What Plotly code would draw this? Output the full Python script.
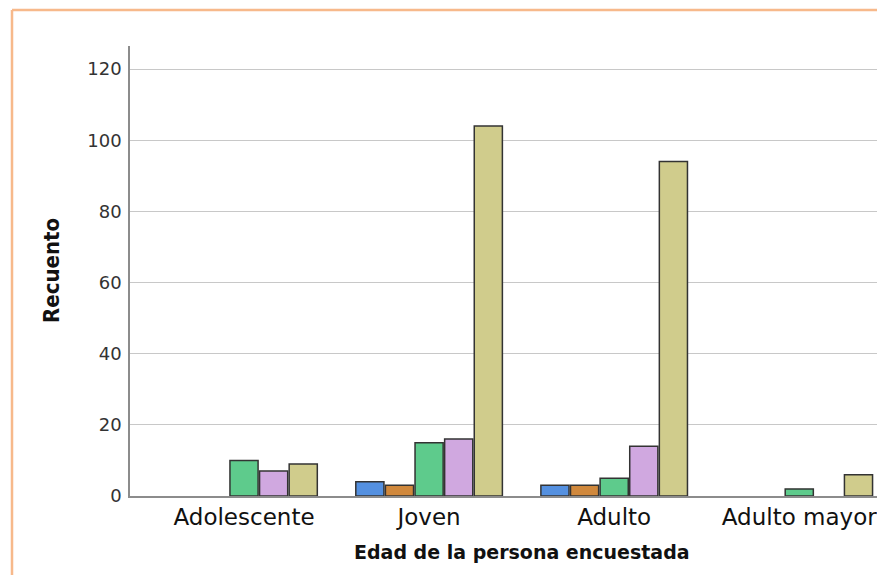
import plotly.graph_objects as go

categories = ["Adolescente", "Joven", "Adulto", "Adulto mayor"]
series_names = ["Serie 1", "Serie 2", "Serie 3", "Serie 4", "Serie 5"]
serie_1 = [0, 4, 3, 0]
serie_2 = [0, 3, 3, 0]
serie_3 = [10, 15, 5, 2]
serie_4 = [7, 16, 14, 0]
serie_5 = [9, 104, 94, 6]
y_ticks = [0, 20, 40, 60, 80, 100, 120]

series_values = [serie_1, serie_2, serie_3, serie_4, serie_5]
colors = ["#5490e0", "#d0883c", "#5ecb8c", "#d0a8e0", "#d0cc8c"]

W, H = 877, 575
L, R, T, B = 130, 0, 46, 79
pw, ph = W - L - R, H - T - B

def px_x(x):
    return (x - L) / pw

def px_y(y):
    return (H - B - y) / ph

fig = go.Figure()
for name, vals, col in zip(series_names, series_values, colors):
    fig.add_trace(go.Bar(
        x=categories, y=vals, name=name,
        marker=dict(color=col,
                    line=dict(color="#333333",
                              width=[1.5 if v else 0 for v in vals])),
    ))

fig.update_layout(
    width=W, height=H,
    margin=dict(l=L, r=R, t=T, b=B),
    paper_bgcolor="white", plot_bgcolor="white",
    barmode="group", bargap=0.2, bargroupgap=0.05,
    showlegend=False,
    font=dict(family="DejaVu Sans, sans-serif", color="#222222"),
    xaxis=dict(
        type="category", range=[-0.616, 3.42],
        showline=True, linecolor="#8c8c8c", linewidth=1.5,
        showgrid=False, ticks="",
        tickfont=dict(family="DejaVu Sans, sans-serif", size=23, color="#111111"),
    ),
    yaxis=dict(
        range=[0, 126.5], tickvals=y_ticks,
        showline=True, linecolor="#8c8c8c", linewidth=1.5,
        showgrid=True, gridcolor="#c8c8c8", gridwidth=1,
        zeroline=False, ticks="", ticklabelstandoff=3,
        tickfont=dict(family="DejaVu Sans, sans-serif", size=18, color="#333333"),
    ),
    annotations=[
        dict(text="<b>Recuento</b>", xref="paper", yref="paper",
             x=px_x(51), y=px_y(271), textangle=-90, showarrow=False,
             xanchor="center", yanchor="middle",
             font=dict(family="Liberation Sans Narrow, DejaVu Sans Condensed, sans-serif",
                       size=22, color="#111111")),
        dict(text="<b>Edad de la persona encuestada</b>", xref="paper", yref="paper",
             x=px_x(522), y=px_y(552), showarrow=False,
             xanchor="center", yanchor="middle",
             font=dict(family="DejaVu Sans, sans-serif", size=19, color="#111111")),
    ],
    shapes=[
        dict(type="line", xref="paper", yref="paper",
             x0=px_x(12), x1=px_x(880), y0=px_y(10), y1=px_y(10),
             line=dict(color="#f7b98b", width=2.5)),
        dict(type="line", xref="paper", yref="paper",
             x0=px_x(12), x1=px_x(12), y0=px_y(10), y1=px_y(580),
             line=dict(color="#f7b98b", width=2.5)),
    ],
)

fig.write_html(
    "out.html",
    config={"displayModeBar": False},
    post_script="document.body.style.margin='0';document.body.style.overflow='hidden';",
)
